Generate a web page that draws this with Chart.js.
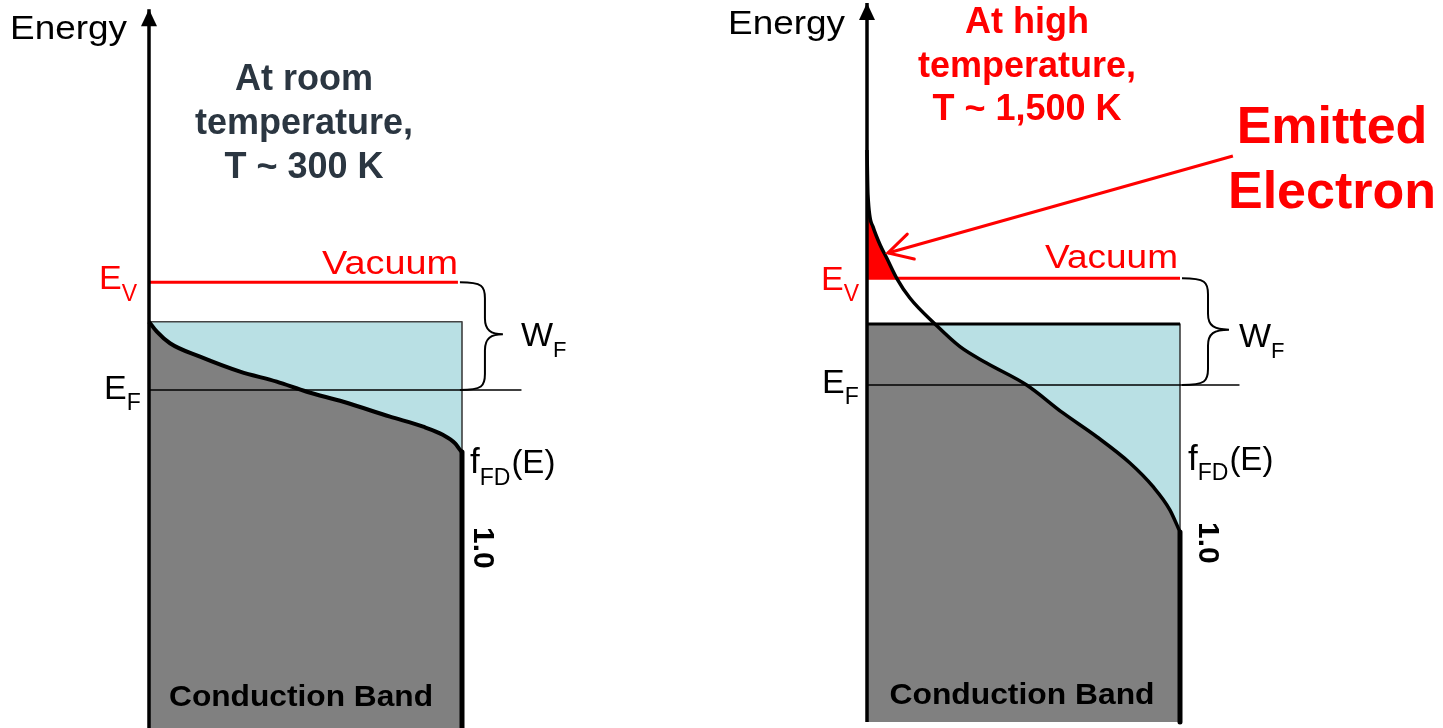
<!DOCTYPE html>
<html><head><meta charset="utf-8">
<script src="https://cdn.jsdelivr.net/npm/chart.js@4/dist/chart.umd.min.js"></script>
<style>
html,body{margin:0;padding:0;background:#fff;overflow:hidden}
#wrap{position:relative;width:1443px;height:728px;background:#fff}
canvas{position:absolute;top:0}
</style></head><body>
<div id="wrap">
<canvas id="cL" width="722" height="728" style="left:0px"></canvas>
<canvas id="cR" width="721" height="728" style="left:722px"></canvas>
</div>
<script>
// ---------------- DATA ----------------
// Occupancy f_FD (x, 0..1) against energy E (y, in units of W_F, E_F = 0)
const roomCurveF = [0, 0.025, 0.067, 0.163, 0.291, 0.408, 0.504, 0.621, 0.770, 0.876, 0.940, 0.978, 0.994, 1.0];
const roomCurveE = [0.634, 0.541, 0.434, 0.309, 0.170, 0.077, -0.016, -0.109, -0.248, -0.341, -0.418, -0.495, -0.557, -0.576];
const hotCurveF  = [0, 0.003, 0.019, 0.042, 0.063, 0.095, 0.137, 0.217, 0.297, 0.382, 0.510, 0.626, 0.734, 0.840, 0.914, 0.968, 1.0];
const hotCurveE  = [2.202, 1.781, 1.484, 1.312, 1.190, 1.0, 0.815, 0.572, 0.359, 0.206, 0.0, -0.262, -0.485, -0.731, -0.953, -1.172, -1.378];
// levels: [Fermi level, vacuum level, band top, band bottom, axis arrow tip]
const levelNames = ['E_F', 'E_V', 'band top', 'band bottom', 'axis top'];
const roomLevelsE = [0, 1, 0.634, -3.139, 3.535];
const hotLevelsE  = [0, 1, 0.572, -3.158, 3.58];
// horizontal extents (in f units): [Fermi line end, vacuum line end]
const roomLineEndsF = [1.19, 0.987];
const hotLineEndsF  = [1.19, 1.0];
// emitted electron arrow: [start, tip] as f and E
const emitArrowF = [1.169, 0.067];
const emitArrowE = [2.146, 1.237];
// text
const roomTitle = ['At room', 'temperature,', 'T ~ 300 K'];
const hotTitle  = ['At high', 'temperature,', 'T ~ 1,500 K'];
const emitLabel = ['Emitted', 'Electron'];
const axisLabel = 'Energy';
const vacuumLabel = 'Vacuum';
const bandLabel = 'Conduction Band';
const tickOne = '1.0';

// ---------------- helpers ----------------
const FF = '"Liberation Sans", Arial, Helvetica, sans-serif';
const pts = (fs, es) => fs.map((f, i) => ({x: f, y: es[i]}));
const PANELS = {};

function txt(ctx, s, x, y, o) {
  ctx.save();
  ctx.font = (o.bold ? 'bold ' : '') + o.size + 'px ' + FF;
  ctx.fillStyle = o.color || '#000';
  ctx.textBaseline = 'alphabetic';
  ctx.textAlign = 'left';
  const w = ctx.measureText(s).width;
  const sx = o.w ? o.w / w : 1;
  const tw = w * sx;
  let x0 = x;
  if (o.align === 'center') x0 = x - tw / 2; else if (o.align === 'right') x0 = x - tw;
  ctx.translate(x0, y);
  if (o.rot) ctx.rotate(o.rot);
  ctx.scale(sx, 1);
  ctx.fillText(s, 0, 0);
  ctx.restore();
}
// parts: [text, size, dy]
function rich(ctx, x, y, parts, color) {
  let cx = x;
  parts.forEach(p => {
    ctx.save();
    ctx.font = p[1] + 'px ' + FF;
    ctx.fillStyle = color;
    ctx.textAlign = 'left';
    ctx.textBaseline = 'alphabetic';
    ctx.fillText(p[0], cx, y + (p[2] || 0));
    cx += ctx.measureText(p[0]).width + (p[3] || 0);
    ctx.restore();
  });
}

const decorPlugin = {
  id: 'decor',
  afterDatasetsDraw(chart) {
    const ctx = chart.ctx;
    const P = PANELS[chart.canvas.id];
    chart.data.datasets.forEach((ds, i) => {
      if (!ds.arrowHead) return;
      const d = chart.getDatasetMeta(i).data;
      const a = d[d.length - 2], b = d[d.length - 1];
      const ang = Math.atan2(b.y - a.y, b.x - a.x);
      ctx.save();
      if (ds.arrowHead === 'filled') {
        const L = 17, H = 8;
        ctx.beginPath();
        ctx.moveTo(b.x, b.y);
        ctx.lineTo(b.x - L * Math.cos(ang) + H * Math.sin(ang), b.y - L * Math.sin(ang) - H * Math.cos(ang));
        ctx.lineTo(b.x - L * Math.cos(ang) - H * Math.sin(ang), b.y - L * Math.sin(ang) + H * Math.cos(ang));
        ctx.closePath();
        ctx.fillStyle = ds.borderColor;
        ctx.fill();
      } else {
        const L = 27, sp = 0.5;
        ctx.beginPath();
        ctx.moveTo(b.x - L * Math.cos(ang - sp), b.y - L * Math.sin(ang - sp));
        ctx.lineTo(b.x, b.y);
        ctx.lineTo(b.x - L * Math.cos(ang + sp), b.y - L * Math.sin(ang + sp));
        ctx.strokeStyle = ds.borderColor;
        ctx.lineWidth = ds.borderWidth;
        ctx.lineJoin = 'miter';
        ctx.lineCap = 'round';
        ctx.stroke();
      }
      ctx.restore();
    });
    // brace between vacuum level and Fermi level
    const xs = chart.scales.x, ys = chart.scales.y;
    const x0 = xs.getPixelForValue(P.lineEnds[1]) + 2;
    const yT = ys.getPixelForValue(P.levels[1]), yB = ys.getPixelForValue(P.levels[0]);
    const ym = (yT + yB) / 2 - 2, b = P.braceBody, dd = P.braceDepth;
    ctx.save();
    ctx.beginPath();
    ctx.moveTo(x0, yT);
    ctx.bezierCurveTo(x0 + b * 0.9, yT, x0 + b, yT + 4, x0 + b, yT + 16);
    ctx.lineTo(x0 + b, ym - 16);
    ctx.bezierCurveTo(x0 + b, ym - 4, x0 + b + 6, ym, x0 + dd, ym);
    ctx.bezierCurveTo(x0 + b + 6, ym, x0 + b, ym + 4, x0 + b, ym + 16);
    ctx.lineTo(x0 + b, yB - 16);
    ctx.bezierCurveTo(x0 + b, yB - 4, x0 + b * 0.9, yB, x0, yB);
    ctx.strokeStyle = '#000';
    ctx.lineWidth = 2;
    ctx.stroke();
    ctx.restore();
  },
  afterDraw(chart) {
    PANELS[chart.canvas.id].drawText(chart.ctx, chart);
  }
};

function makePanel(id, P) {
  PANELS[id] = P;
  const [ef, ev, top, bot, tip] = P.levels;
  const curve = pts(P.curveF, P.curveE);
  const endE = P.curveE[P.curveE.length - 1];
  const line = (data, color, width, extra) => Object.assign({data, borderColor: color, borderWidth: width, pointRadius: 0, fill: false, tension: 0, borderJoinStyle: 'round'}, extra || {});
  const smooth = {cubicInterpolationMode: 'monotone'};
  const ds = [];
  // light-blue band (fills down to band bottom)
  ds.push(line([{x: 0, y: top}, {x: 1, y: top}], P.topColor, 0, {fill: {value: bot}, backgroundColor: '#b9e0e4'}));
  // occupied states (grey) under the Fermi-Dirac curve
  ds.push(line(curve, 'rgba(0,0,0,0)', 0, Object.assign({fill: {value: bot}, backgroundColor: '#808080'}, smooth)));
  // region above band top and below curve is empty (white)
  ds.push(line(curve.filter(p => p.y >= top - 1e-9), 'rgba(0,0,0,0)', 0, Object.assign({fill: {value: top}, backgroundColor: '#ffffff'}, smooth)));
  // electrons above the vacuum level (red)
  if (P.emission) ds.push(line(curve.filter(p => p.y >= ev - 1e-9), 'rgba(0,0,0,0)', 0, Object.assign({fill: {value: ev}, backgroundColor: '#ff0000'}, smooth)));
  ds.push(line([{x: 1, y: top}, {x: 1, y: endE}], '#333', 1.5));
  ds.push(line([{x: 0, y: top}, {x: 1, y: top}], P.topColor, P.topWidth));
  ds.push(line([{x: 0, y: ef}, {x: P.lineEnds[0], y: ef}], '#000', 1.5));
  ds.push(line([{x: 0, y: ev}, {x: P.lineEnds[1], y: ev}], '#ff0000', 3));
  ds.push(line(curve, '#000', P.curveWidth, smooth));
  ds.push(line([{x: 1, y: endE}, {x: 1, y: bot}], '#000', 5));
  ds.push(line([{x: 0, y: bot}, {x: 0, y: tip}], '#000', 3.5, {arrowHead: 'filled'}));
  if (P.emission) ds.push(line(pts(emitArrowF, emitArrowE), '#ff0000', 3, {arrowHead: 'open'}));
  ds.forEach((d, i) => { d.order = ds.length - i; });

  const W = P.width, H = 728;
  return new Chart(document.getElementById(id), {
    type: 'line',
    data: {datasets: ds},
    options: {
      responsive: false, animation: false, events: [],
      layout: {padding: 0},
      scales: {
        x: {type: 'linear', display: false, min: -P.axisPx / P.ppx, max: (W - P.axisPx) / P.ppx},
        y: {type: 'linear', display: false, min: (P.efPx - H) / P.ppy, max: P.efPx / P.ppy}
      },
      plugins: {legend: {display: false}, tooltip: {enabled: false}}
    },
    plugins: [decorPlugin]
  });
}

makePanel('cL', {
  width: 722, axisPx: 149, ppx: 313, efPx: 390, ppy: 107.7,
  curveF: roomCurveF, curveE: roomCurveE, levels: roomLevelsE, lineEnds: roomLineEndsF,
  topColor: '#444', topWidth: 1.5, curveWidth: 4, emission: false, braceBody: 25, braceDepth: 43,
  drawText(ctx) {
    txt(ctx, axisLabel, 10, 39, {size: 34, w: 117});
    roomTitle.forEach((s, i) => txt(ctx, s, 304, 90 + i * 44, {size: 36, bold: true, color: '#2b3641', align: 'center'}));
    rich(ctx, 99, 289, [['E', 34], ['V', 23, 12]], '#ff0000');
    txt(ctx, vacuumLabel, 322, 274, {size: 34, w: 136, color: '#ff0000'});
    rich(ctx, 104, 399, [['E', 34], ['F', 23, 11]], '#000');
    rich(ctx, 521, 346, [['W', 34], ['F', 22, 11]], '#000');
    rich(ctx, 470, 473, [['f', 35], ['FD', 23, 12, 1], ['(E)', 33]], '#000');
    txt(ctx, tickOne, 474, 527, {size: 30, bold: true, rot: Math.PI / 2});
    txt(ctx, bandLabel, 301, 706, {size: 30, bold: true, w: 264, align: 'center'});
  }
});

makePanel('cR', {
  width: 721, axisPx: 145, ppx: 313, efPx: 385, ppy: 106.7,
  curveF: hotCurveF, curveE: hotCurveE, levels: hotLevelsE, lineEnds: hotLineEndsF,
  topColor: '#000', topWidth: 3, curveWidth: 3.5, emission: true, braceBody: 26, braceDepth: 47,
  drawText(ctx) {
    txt(ctx, axisLabel, 6, 34, {size: 34, w: 117});
    hotTitle.forEach((s, i) => txt(ctx, s, 305, 33 + i * 43.5, {size: 36, bold: true, color: '#ff0000', align: 'center'}));
    emitLabel.forEach((s, i) => txt(ctx, s, 610, 143 + i * 65, {size: 52, bold: true, color: '#ff0000', align: 'center'}));
    rich(ctx, 99, 290, [['E', 34], ['V', 23, 11]], '#ff0000');
    txt(ctx, vacuumLabel, 323, 268, {size: 34, w: 133, color: '#ff0000'});
    rich(ctx, 100, 393, [['E', 34], ['F', 23, 11]], '#000');
    rich(ctx, 517, 347, [['W', 34], ['F', 22, 11]], '#000');
    rich(ctx, 466, 470, [['f', 35], ['FD', 23, 10, 1], ['(E)', 33]], '#000');
    txt(ctx, tickOne, 477, 522, {size: 30, bold: true, rot: Math.PI / 2});
    txt(ctx, bandLabel, 300, 704, {size: 30, bold: true, w: 265, align: 'center'});
  }
});
</script>
</body></html>
